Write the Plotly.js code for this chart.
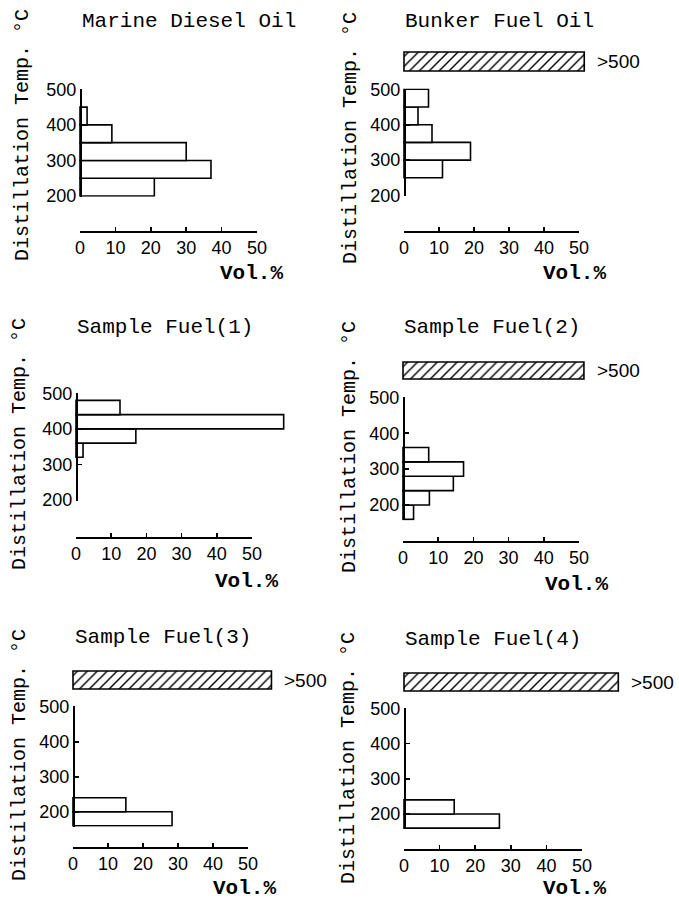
<!DOCTYPE html>
<html><head><meta charset="utf-8">
<script src="https://cdn.plot.ly/plotly-3.0.1.min.js"></script>
<style>html,body{margin:0;padding:0;background:#fff}#chart{width:679px;height:901px}</style>
</head><body><div id="chart"></div>
<script>
// ---------------- data ----------------
const panelTitles = ["Marine Diesel Oil", "Bunker Fuel Oil", "Sample Fuel(1)", "Sample Fuel(2)", "Sample Fuel(3)", "Sample Fuel(4)"];

const mdoTempEdges = [200, 250, 300, 350, 400, 450];
const mdoVolPct    = [21, 37, 30, 9, 2];

const bfoTempEdges = [250, 300, 350, 400, 450, 500];
const bfoVolPct    = [11, 19, 8, 4, 7];
const bfoAbove500  = 51.5;

const sf1TempEdges = [320, 360, 400, 440, 480];
const sf1VolPct    = [2, 17, 59, 12.5];

const sf2TempEdges = [160, 200, 240, 280, 320, 360];
const sf2VolPct    = [3, 7.5, 14.3, 17.2, 7.3];
const sf2Above500  = 51.4;

const sf3TempEdges = [160, 200, 240];
const sf3VolPct    = [28.3, 15.1];
const sf3Above500  = 56.7;

const sf4TempEdges = [160, 200, 240];
const sf4VolPct    = [26.8, 14.1];
const sf4Above500  = 60.2;

const tempTicks = [200, 300, 400, 500];
const volTicks  = [0, 10, 20, 30, 40, 50];
const above500Label = ">500";
const yLabelText = "Distillation Temp. \u00B0C";
const xLabelText = "Vol.%";

const panelEdges = [mdoTempEdges, bfoTempEdges, sf1TempEdges, sf2TempEdges, sf3TempEdges, sf4TempEdges];
const panelVols  = [mdoVolPct, bfoVolPct, sf1VolPct, sf2VolPct, sf3VolPct, sf4VolPct];
const panelAbove = [null, bfoAbove500, null, sf2Above500, sf3Above500, sf4Above500];

// ---------------- page geometry (pixels) ----------------
const W = 679, H = 901;
const XMAX = 66;
const geo = [
  {x0: 80,  x50: 257, y500: 89.3,  y200: 196,   ymin: 198, axisY: 231, title: [80, 21],   ylab: [23, 135],  xlab: [285, 274], hatch: null},
  {x0: 404, x50: 579, y500: 89.3,  y200: 195.5, ymin: 198, axisY: 231, title: [403, 21],  ylab: [350, 138], xlab: [608, 274], hatch: [52, 71]},
  {x0: 76,  x50: 252, y500: 393.3, y200: 500,   ymin: 198, axisY: 537, title: [75, 327],  ylab: [19, 444],  xlab: [280, 581], hatch: null},
  {x0: 403, x50: 579, y500: 397.3, y200: 505,   ymin: 157, axisY: 541, title: [402, 327], ylab: [350, 447], xlab: [610, 584], hatch: [362, 379]},
  {x0: 73,  x50: 248, y500: 706.7, y200: 811.7, ymin: 157, axisY: 847, title: [73, 637],  ylab: [19, 755],  xlab: [278, 888], hatch: [671, 689]},
  {x0: 404, x50: 582, y500: 708.3, y200: 814,   ymin: 157, axisY: 849, title: [403, 639], ylab: [348, 758], xlab: [608, 888], hatch: [673, 691]}
];

const MONO = "Liberation Mono, Courier New, monospace";
const SANS = "Liberation Sans, Arial, sans-serif";
const TICK = 18;
const sfx = n => (n === 1 ? "" : String(n));
const px2x = p => p / W;
const px2y = p => 1 - p / H;

const data = [];
const layout = {
  width: W, height: H,
  margin: {l: 0, r: 0, t: 0, b: 0},
  paper_bgcolor: "white", plot_bgcolor: "rgba(0,0,0,0)",
  showlegend: false, barmode: "overlay",
  annotations: []
};

geo.forEach((g, i) => {
  const xa = i + 1, xt = i + 7, ya = i + 1, yh = i + 7;
  const pxPerVol = (g.x50 - g.x0) / 50;
  const pyT = T => g.y500 + (500 - T) * (g.y200 - g.y500) / 300;
  const yTop = 502;

  layout["xaxis" + sfx(xa)] = {
    range: [-1, XMAX], visible: false, fixedrange: true,
    domain: [px2x(g.x0 - pxPerVol), px2x(g.x0 + pxPerVol * XMAX)],
    anchor: "y" + sfx(ya)
  };
  layout["xaxis" + sfx(xt)] = {
    range: [0, 50], domain: [px2x(g.x0), px2x(g.x50)],
    anchor: "free", position: px2y(g.axisY), side: "bottom",
    showline: true, linecolor: "black", linewidth: 1.6,
    ticks: "inside", ticklen: 4, tickwidth: 1.6, tickcolor: "black",
    tickmode: "array", tickvals: volTicks, ticktext: volTicks.map(String),
    tickfont: {family: SANS, size: TICK, color: "black"},
    showgrid: false, zeroline: false, fixedrange: true
  };
  layout["yaxis" + sfx(ya)] = {
    range: [g.ymin, yTop],
    domain: [px2y(pyT(g.ymin)), px2y(pyT(yTop))],
    anchor: "free", position: px2x(g.x0), side: "left",
    showline: true, linecolor: "black", linewidth: 1.6,
    ticks: "inside", ticklen: 4, tickwidth: 1.6, tickcolor: "black",
    tickmode: "array", tickvals: tempTicks, ticktext: tempTicks.map(String),
    tickfont: {family: SANS, size: TICK, color: "black"},
    showgrid: false, zeroline: false, fixedrange: true
  };

  const edges = panelEdges[i], vols = panelVols[i];
  const centers = vols.map((v, k) => (edges[k] + edges[k + 1]) / 2);
  const widths = vols.map((v, k) => edges[k + 1] - edges[k]);
  data.push({
    type: "bar", orientation: "h", x: vols, y: centers, width: widths, base: 0,
    xaxis: "x" + sfx(xa), yaxis: "y" + sfx(ya),
    marker: {color: "white", line: {color: "black", width: 1.6}},
    hoverinfo: "skip"
  });
  data.push({type: "scatter", mode: "markers", x: [], y: [], xaxis: "x" + sfx(xt), yaxis: "y" + sfx(ya), hoverinfo: "skip"});

  if (g.hatch && panelAbove[i] != null) {
    const hgt = g.hatch[1] - g.hatch[0];
    layout["yaxis" + sfx(yh)] = {
      range: [-0.6, 0.6], visible: false, fixedrange: true,
      domain: [px2y(g.hatch[1] + 0.1 * hgt), px2y(g.hatch[0] - 0.1 * hgt)],
      anchor: "x" + sfx(xa)
    };
    data.push({
      type: "bar", orientation: "h", x: [panelAbove[i]], y: [0], width: [1], base: 0,
      xaxis: "x" + sfx(xa), yaxis: "y" + sfx(yh),
      marker: {color: "white", line: {color: "black", width: 1.6},
               pattern: {shape: "/", fgcolor: "black", bgcolor: "white", size: 7, solidity: 0.2}},
      hoverinfo: "skip"
    });
    layout.annotations.push({
      text: above500Label, xref: "x" + sfx(xa), yref: "y" + sfx(yh),
      x: panelAbove[i], y: 0, xanchor: "left", yanchor: "middle", xshift: 11,
      showarrow: false, font: {family: SANS, size: 19, color: "black"}
    });
  }

  layout.annotations.push({
    text: panelTitles[i], xref: "paper", yref: "paper",
    x: px2x(g.title[0]), y: px2y(g.title[1]), xanchor: "left", yanchor: "middle",
    showarrow: false, font: {family: MONO, size: 21, color: "black"}
  });
  layout.annotations.push({
    text: yLabelText, xref: "paper", yref: "paper", textangle: -90,
    x: px2x(g.ylab[0]), y: px2y(g.ylab[1]), xanchor: "center", yanchor: "middle",
    showarrow: false, font: {family: MONO, size: 20, color: "black"}
  });
  layout.annotations.push({
    text: "<b>" + xLabelText + "</b>", xref: "paper", yref: "paper",
    x: px2x(g.xlab[0]), y: px2y(g.xlab[1]), xanchor: "right", yanchor: "middle",
    showarrow: false, font: {family: MONO, size: 21, color: "black"}
  });
});

Plotly.newPlot("chart", data, layout, {staticPlot: true, displayModeBar: false});
</script>
</body></html>
